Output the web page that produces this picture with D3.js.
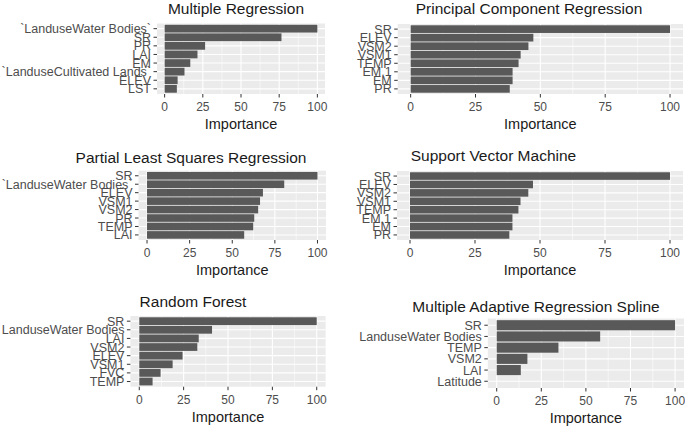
<!DOCTYPE html>
<html><head><meta charset="utf-8">
<script src="https://cdn.jsdelivr.net/npm/d3@7"></script>
<style>
html,body{margin:0;padding:0;background:#fff;}
svg{display:block;font-family:"Liberation Sans",Arial,sans-serif;}
</style></head>
<body><svg id="c" width="685" height="426"></svg>
<script>
// ---- data ----
const titles = ["Multiple Regression","Principal Component Regression","Partial Least Squares Regression","Support Vector Machine","Random Forest","Multiple Adaptive Regression Spline"];
const mrLabels = ["`LanduseWater Bodies`","SR","PR","LAI","EM","`LanduseCultivated Lands`","ELEV","LST"];
const mrValues = [100,76.5,26.5,21.5,16.8,13,8.5,8];
const pcrLabels = ["SR","ELEV","VSM2","VSM1","TEMP","EM.1","EM","PR"];
const pcrValues = [100,47.3,45.4,42.4,41.6,39.3,39.3,38.2];
const plsLabels = ["SR","`LanduseWater Bodies`","ELEV","VSM1","VSM2","PR","TEMP","LAI"];
const plsValues = [100,80.5,68,66.3,65.2,62.9,62.3,57];
const svmLabels = ["SR","ELEV","VSM2","VSM1","TEMP","EM.1","EM","PR"];
const svmValues = [100,47.3,45.5,42.5,41.7,39.4,39.4,38.2];
const rfLabels = ["SR","LanduseWater Bodies","LAI","VSM2","ELEV","VSM1","FVC","TEMP"];
const rfValues = [100,41,33.5,32.7,24.4,18.8,12,7.5];
const marsLabels = ["SR","LanduseWater Bodies","TEMP","VSM2","LAI","Latitude"];
const marsValues = [100,58,34.6,17.2,13.5,0];
const xTicks = [0,25,50,75,100];
const xMinor = [12.5,37.5,62.5,87.5];
const axisTitle = "Importance";

const series = [
  [mrLabels, mrValues],[pcrLabels, pcrValues],[plsLabels, plsValues],
  [svmLabels, svmValues],[rfLabels, rfValues],[marsLabels, marsValues]
];
// ---- layout ----
const layout = [
  {L:157, R:325, T:23.5, B:94, tx:236, ty:14},
  {L:397.7, R:683, T:24, B:94, tx:529, ty:14},
  {L:138.5, R:326, T:170.7, B:240, tx:191, ty:163},
  {L:397, R:683, T:171, B:240, tx:493.5, ty:160.7},
  {L:130.4, R:325.6, T:316, B:386.7, tx:193, ty:306.7},
  {L:487.8, R:684, T:318.5, B:388, tx:536, ty:311.7}
];

const svg = d3.select("#c");

series.forEach(([labels, values], k) => {
  const p = layout[k];
  const g = svg.append("g");
  const x = d3.scaleLinear().domain([-5,105]).range([p.L, p.R]);
  const y = d3.scaleBand().domain(labels).range([p.T, p.B]).paddingInner(0.1).paddingOuter(0.15);
  // panel background
  g.append("rect").attr("x",p.L).attr("y",p.T).attr("width",p.R-p.L).attr("height",p.B-p.T).attr("fill","#ebebeb");
  // minor grid
  g.selectAll(".mn").data(xMinor).enter().append("line")
    .attr("x1",d=>x(d)).attr("x2",d=>x(d)).attr("y1",p.T).attr("y2",p.B)
    .attr("stroke","#fff").attr("stroke-width",0.55);
  // major grid x
  g.selectAll(".mj").data(xTicks).enter().append("line")
    .attr("x1",d=>x(d)).attr("x2",d=>x(d)).attr("y1",p.T).attr("y2",p.B)
    .attr("stroke","#fff").attr("stroke-width",1.1);
  // major grid y
  g.selectAll(".my").data(labels).enter().append("line")
    .attr("x1",p.L).attr("x2",p.R).attr("y1",d=>y(d)+y.bandwidth()/2).attr("y2",d=>y(d)+y.bandwidth()/2)
    .attr("stroke","#fff").attr("stroke-width",1.1);
  // bars
  g.selectAll(".bar").data(labels).enter().append("rect")
    .attr("x",x(0)).attr("y",d=>y(d)).attr("height",y.bandwidth())
    .attr("width",(d,i)=>x(values[i])-x(0)).attr("fill","#595959");
  // y axis ticks + labels
  g.selectAll(".yt").data(labels).enter().append("line")
    .attr("x1",p.L-3.5).attr("x2",p.L).attr("y1",d=>y(d)+y.bandwidth()/2).attr("y2",d=>y(d)+y.bandwidth()/2)
    .attr("stroke","#333").attr("stroke-width",1);
  g.selectAll(".yl").data(labels).enter().append("text")
    .attr("x",p.L-6).attr("y",d=>y(d)+y.bandwidth()/2).attr("dy","0.36em")
    .attr("text-anchor","end").attr("font-size","12.5px").attr("fill","#4d4d4d").text(d=>d);
  // x axis ticks + labels
  g.selectAll(".xt").data(xTicks).enter().append("line")
    .attr("x1",d=>x(d)).attr("x2",d=>x(d)).attr("y1",p.B).attr("y2",p.B+3.5)
    .attr("stroke","#333").attr("stroke-width",1);
  g.selectAll(".xl").data(xTicks).enter().append("text")
    .attr("x",d=>x(d)).attr("y",p.B+12.5).attr("dy","0.36em")
    .attr("text-anchor","middle").attr("font-size","12px").attr("fill","#4d4d4d").text(d=>d);
  // axis title
  g.append("text").attr("x",(p.L+p.R)/2).attr("y",p.B+30).attr("dy","0.36em")
    .attr("text-anchor","middle").attr("font-size","14.5px").attr("fill","#1a1a1a").text(axisTitle);
  // panel title
  g.append("text").attr("x",p.tx).attr("y",p.ty)
    .attr("text-anchor","middle").attr("font-size","15.5px").attr("fill","#1a1a1a").text(titles[k]);
});
</script></body></html>
